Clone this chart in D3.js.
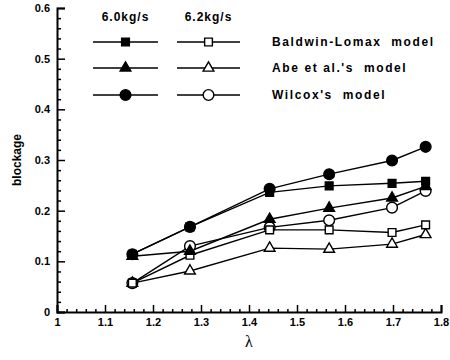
<!DOCTYPE html>
<html>
<head>
<meta charset="utf-8">
<script src="https://cdn.jsdelivr.net/npm/d3@7"></script>
<style>
  body { margin: 0; background: #fff; }
  svg { display: block; }
  text { font-family: "Liberation Sans", Arial, sans-serif; font-weight: bold; fill: #000; }
</style>
</head>
<body>
<svg id="chart"></svg>
<script>
// blade-row blockage vs lambda, two mass flows, three turbulence models
const lambda = [1.157, 1.277, 1.443, 1.567, 1.698, 1.768];

const baldwin60 = [0.114, 0.168, 0.236, 0.249, 0.254, 0.258];
const abe60 = [0.110, 0.120, 0.183, 0.205, 0.225, 0.248];
const wilcox60 = [0.114, 0.168, 0.243, 0.272, 0.299, 0.326];

const baldwin62 = [0.057, 0.112, 0.162, 0.162, 0.157, 0.172];
const abe62 = [0.057, 0.081, 0.126, 0.124, 0.134, 0.153];
const wilcox62 = [0.057, 0.130, 0.167, 0.181, 0.206, 0.239];

const xTicks = [1, 1.1, 1.2, 1.3, 1.4, 1.5, 1.6, 1.7, 1.8];
const yTicks = [0, 0.1, 0.2, 0.3, 0.4, 0.5, 0.6];
const flowLabels = ["6.0kg/s", "6.2kg/s"];
const modelLabels = ["Baldwin-Lomax  model", "Abe et al.'s  model", "Wilcox's  model"];

const width = 450, height = 360;
const margin = { top: 8, right: 9, bottom: 48, left: 57 };

const svg = d3.select("#chart").attr("width", width).attr("height", height);

const x = d3.scaleLinear().domain([1, 1.8]).range([margin.left, width - margin.right]);
const y = d3.scaleLinear().domain([0, 0.6]).range([height - margin.bottom, margin.top]);

const minorX = d3.range(1, 1.8001, 0.02).filter(v => Math.abs(v * 10 - Math.round(v * 10)) > 1e-6);
const minorY = d3.range(0, 0.6001, 0.02).filter(v => Math.abs(v * 10 - Math.round(v * 10)) > 1e-6);

// axes: ticks point into the plot
const fmt = d => d === 0 ? "0" : d === 1 ? "1" : String(d);

const gx = svg.append("g").attr("transform", `translate(0,${y(0)})`);
gx.call(d3.axisBottom(x).tickValues(xTicks).tickSize(-7).tickPadding(6).tickFormat(fmt));
gx.append("g").call(d3.axisBottom(x).tickValues(minorX).tickSize(-3).tickFormat(""))
  .select(".domain").remove();

const gy = svg.append("g").attr("transform", `translate(${x(1)},0)`);
gy.call(d3.axisLeft(y).tickValues(yTicks).tickSize(-8).tickPadding(7).tickFormat(fmt));
gy.append("g").call(d3.axisLeft(y).tickValues(minorY).tickSize(-4).tickFormat(""))
  .select(".domain").remove();

svg.selectAll(".domain").attr("stroke", "#000").attr("stroke-width", 2);
svg.selectAll(".tick line").attr("stroke", "#000").attr("stroke-width", 1.5);
svg.selectAll(".tick text").style("font-size", "11px").style("font-weight", "bold").attr("fill", "#000");

svg.append("text")
  .attr("transform", `translate(21,${y(0.3)}) rotate(-90)`)
  .attr("text-anchor", "middle")
  .style("font-size", "12px")
  .text("blockage");

svg.append("text")
  .attr("x", x(1.4)).attr("y", 347)
  .attr("text-anchor", "middle")
  .style("font-family", "'Liberation Serif', serif")
  .style("font-weight", "normal")
  .style("font-size", "16px")
  .text("λ");

// markers
const symbolFor = { square: d3.symbolSquare, triangle: d3.symbolTriangle, circle: d3.symbolCircle };
const sizeFor = { square: 60, triangle: 50, circle: 90 };

const series = [
  { values: wilcox62, shape: "circle", filled: false },
  { values: abe62, shape: "triangle", filled: false },
  { values: baldwin62, shape: "square", filled: false },
  { values: abe60, shape: "triangle", filled: true },
  { values: baldwin60, shape: "square", filled: true },
  { values: wilcox60, shape: "circle", filled: true }
];

const line = d3.line().x((d, i) => x(lambda[i])).y(d => y(d));

function marker(g, shape, filled) {
  g.append("path")
    .attr("d", d3.symbol().type(symbolFor[shape]).size(sizeFor[shape]))
    .attr("fill", filled ? "#000" : "#fff")
    .attr("stroke", "#000")
    .attr("stroke-width", 1.4);
}

series.forEach(s => {
  svg.append("path").datum(s.values)
    .attr("d", line)
    .attr("fill", "none")
    .attr("stroke", "#000")
    .attr("stroke-width", 1.4);
});
series.forEach(s => {
  s.values.forEach((v, i) => {
    const g = svg.append("g").attr("transform", `translate(${x(lambda[i])},${y(v)})`);
    marker(g, s.shape, s.filled);
  });
});

// legend
const legend = svg.append("g");
const colX = [[93, 158], [177, 240]];
const rowY = [42, 68, 95];
const legendShapes = ["square", "triangle", "circle"];

flowLabels.forEach((t, c) => {
  legend.append("text")
    .attr("x", (colX[c][0] + colX[c][1]) / 2).attr("y", 21)
    .attr("text-anchor", "middle")
    .style("font-size", "12px")
    .style("letter-spacing", "1px")
    .text(t);
});

legendShapes.forEach((shape, r) => {
  colX.forEach((cx, c) => {
    legend.append("line")
      .attr("x1", cx[0]).attr("x2", cx[1])
      .attr("y1", rowY[r]).attr("y2", rowY[r])
      .attr("stroke", "#000").attr("stroke-width", 1.4);
    const g = legend.append("g").attr("transform", `translate(${(cx[0] + cx[1]) / 2},${rowY[r]})`);
    marker(g, shape, c === 0);
  });
  legend.append("text")
    .attr("x", 272).attr("y", rowY[r] + 4)
    .style("font-size", "12px")
    .style("letter-spacing", "1.6px")
    .style("white-space", "pre")
    .text(modelLabels[r]);
});
</script>
</body>
</html>
